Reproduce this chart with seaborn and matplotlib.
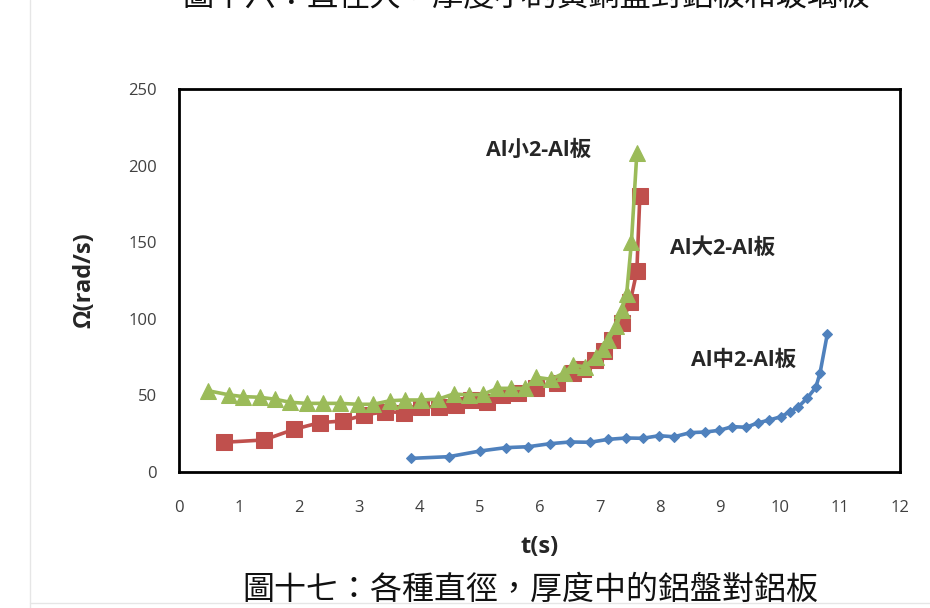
import numpy as np
import pandas as pd
import matplotlib
matplotlib.use("Agg")
import matplotlib.pyplot as plt
import seaborn as sns

# ---- data ----
t_mid = [3.86, 4.49, 5.01, 5.44, 5.81, 6.18, 6.51, 6.84, 7.14, 7.44, 7.72, 7.99, 8.24,
         8.51, 8.76, 8.99, 9.21, 9.44, 9.63, 9.82, 10.02, 10.17, 10.30, 10.45, 10.60,
         10.67, 10.79]
w_mid = [8.9, 10.0, 13.7, 15.9, 16.5, 18.5, 19.6, 19.4, 21.3, 22.2, 22.0, 23.7, 23.0,
         25.7, 26.1, 27.2, 29.6, 29.2, 32.0, 33.9, 36.1, 39.4, 42.2, 48.0, 55.3,
         64.8, 90.0]

t_big = [0.75, 1.41, 1.92, 2.34, 2.73, 3.08, 3.43, 3.75, 4.03, 4.33, 4.61, 4.86, 5.13,
         5.37, 5.65, 5.95, 6.29, 6.56, 6.73, 6.92, 7.08, 7.21, 7.37, 7.51, 7.62, 7.67]
w_big = [19.4, 20.9, 27.9, 32.2, 33.3, 37.2, 39.4, 38.8, 42.6, 42.6, 43.7, 47.0, 45.9,
         50.3, 51.8, 54.6, 58.3, 64.8, 67.0, 73.0, 79.0, 86.0, 97.0, 111.0, 131.0, 180.0]

t_small = [0.49, 0.84, 1.07, 1.34, 1.60, 1.85, 2.13, 2.40, 2.68, 2.98, 3.23, 3.51, 3.76,
           4.03, 4.31, 4.57, 4.82, 5.06, 5.30, 5.53, 5.76, 5.95, 6.19, 6.40, 6.56, 6.75,
           6.94, 7.06, 7.14, 7.28, 7.37, 7.45, 7.53, 7.62]
w_small = [53.0, 50.3, 49.2, 48.8, 47.5, 45.5, 44.8, 44.8, 44.8, 44.2, 44.2, 46.5, 47.0,
           47.0, 47.5, 50.9, 50.3, 50.7, 54.6, 54.6, 54.6, 61.8, 60.5, 64.4, 69.8, 68.7,
           75.3, 80.0, 86.0, 95.0, 106.0, 116.0, 150.0, 208.0]

series_names = ["Al中2-Al板", "Al大2-Al板", "Al小2-Al板"]
x_ticks = list(range(0, 13))
y_ticks = [0, 50, 100, 150, 200, 250]

sns.set_style("white")
plt.rcParams['font.family'] = ['Open Sans', 'Noto Sans CJK TC', 'DejaVu Sans']

fig = plt.figure(figsize=(9.30, 6.08), dpi=100)
ax = fig.add_axes([179/930, 1-472/608, (900-179)/930, (472-89)/608])

df_mid = pd.DataFrame({"t": t_mid, "w": w_mid})
df_big = pd.DataFrame({"t": t_big, "w": w_big})
df_small = pd.DataFrame({"t": t_small, "w": w_small})

sns.lineplot(data=df_mid, x="t", y="w", ax=ax, sort=False, color="#4F81BD",
             linewidth=2.6, marker="D", markersize=5.5, markeredgecolor="#4F81BD")
sns.lineplot(data=df_big, x="t", y="w", ax=ax, sort=False, color="#C0504D",
             linewidth=2.6, marker="s", markersize=11, markeredgecolor="#C0504D")
sns.lineplot(data=df_small, x="t", y="w", ax=ax, sort=False, color="#9BBB59",
             linewidth=2.6, marker="^", markersize=12, markeredgecolor="#9BBB59")

ax.set_xlim(0, 12)
ax.set_ylim(0, 250)
ax.set_xticks(x_ticks)
ax.set_yticks(y_ticks)
ax.tick_params(direction="in", length=5, width=1.5, colors="black",
               labelcolor="#404040", labelsize=12)
ax.tick_params(axis="x", pad=20)
ax.tick_params(axis="y", pad=16)
for s in ax.spines.values():
    s.set_visible(True)
    s.set_color("black")
    s.set_linewidth(2)

ax.set_xlabel("t(s)", fontsize=17, fontweight="bold", labelpad=14)
ax.set_ylabel("Ω(rad/s)", fontsize=17, fontweight="bold", labelpad=23)

lab_fam = ['Open Sans', 'Noto Sans CJK TC']
ax.text(5.99, 210, series_names[2], fontsize=15.5, fontweight="bold", ha="center",
        va="center", family=lab_fam)
ax.text(9.04, 146, series_names[1], fontsize=15.5, fontweight="bold", ha="center",
        va="center", family=lab_fam)
ax.text(9.39, 73, series_names[0], fontsize=15.5, fontweight="bold", ha="center",
        va="center", family=lab_fam)

cjk = ['Noto Sans CJK TC', 'DejaVu Sans']
fig.text(526/930, 1 - (-3)/608, "圖十六：直徑大，厚度小的黃銅盤對鋁板和玻璃板",
         fontsize=22.5, ha="center", va="center", family=cjk, color="#111111",
         fontweight="light")
fig.text(530/930, 1 - 590/608, "圖十七：各種直徑，厚度中的鋁盤對鋁板",
         fontsize=23, ha="center", va="center", family=cjk, color="#111111",
         fontweight="light")

# faint page borders
fig.add_artist(plt.Line2D([30/930, 30/930], [0, 1], color="#e6e6e6", lw=1))
fig.add_artist(plt.Line2D([30/930, 1], [1-603/608, 1-603/608], color="#e6e6e6", lw=1))

fig.savefig("out.png", dpi=100)
